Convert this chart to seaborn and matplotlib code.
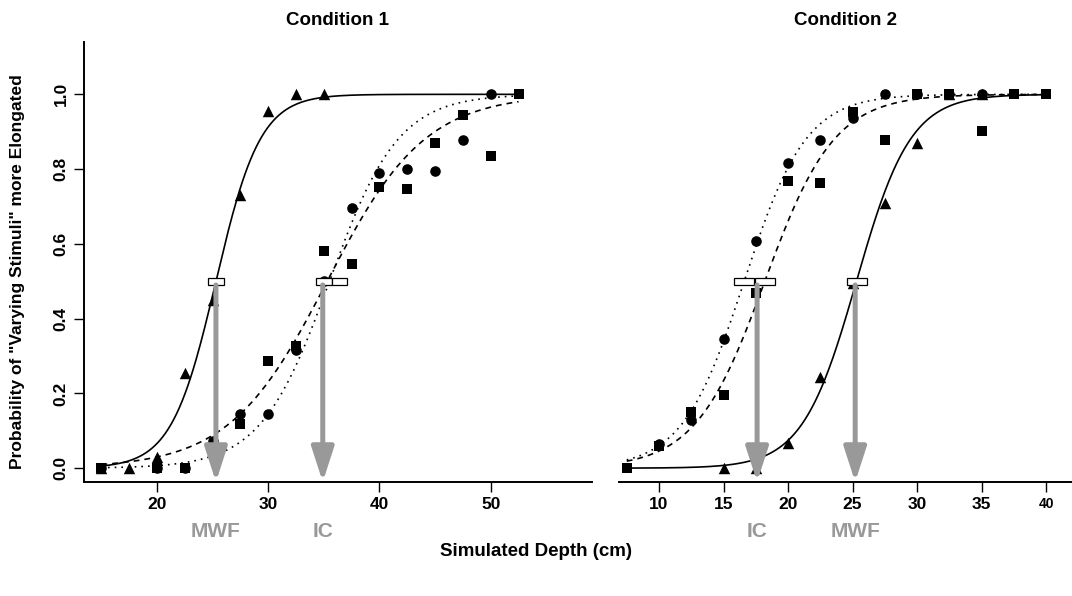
import numpy as np
import pandas as pd
import matplotlib
matplotlib.use("Agg")
import matplotlib.pyplot as plt
import seaborn as sns
from matplotlib.patches import Rectangle

# ---- data ----
# Condition 1
c1_tri_x = [15, 17.5, 20, 22.5, 25, 27.5, 30, 32.5, 35]
c1_tri_y = [0.0, 0.0, 0.03, 0.255, 0.45, 0.73, 0.955, 1.0, 1.0]
c1_circ_x = [15, 20, 22.5, 25, 27.5, 30, 32.5, 35, 37.5, 40, 42.5, 45, 47.5, 50]
c1_circ_y = [0.0, 0.0, 0.0, 0.072, 0.145, 0.145, 0.316, 0.5, 0.697, 0.79, 0.80, 0.795, 0.877, 1.0]
c1_sq_x = [15, 20, 22.5, 27.5, 30, 32.5, 35, 37.5, 40, 42.5, 45, 47.5, 50, 52.5]
c1_sq_y = [0.0, 0.0, 0.0, 0.118, 0.287, 0.327, 0.58, 0.547, 0.753, 0.748, 0.871, 0.944, 0.836, 1.0]

# Condition 2
c2_tri_x = [15, 17.5, 20, 22.5, 25, 27.5, 30, 32.5, 35]
c2_tri_y = [0.0, 0.0, 0.067, 0.244, 0.496, 0.708, 0.869, 1.0, 1.0]
c2_circ_x = [10, 12.5, 15, 17.5, 20, 22.5, 25, 27.5, 30, 32.5, 35]
c2_circ_y = [0.065, 0.128, 0.346, 0.609, 0.815, 0.877, 0.936, 1.0, 1.0, 1.0, 1.0]
c2_sq_x = [7.5, 10, 12.5, 15, 17.5, 20, 22.5, 25, 27.5, 30, 32.5, 35, 37.5, 40]
c2_sq_y = [0.0, 0.059, 0.15, 0.196, 0.469, 0.769, 0.764, 0.954, 0.879, 1.0, 1.0, 0.903, 1.0, 1.0]

# fitted logistic curves: (midpoint, spread) for triangle / circle / square series
c1_fit_mu = [25.3, 35.5, 35.3]
c1_fit_s = [2.0, 3.1, 4.4]
c2_fit_mu = [25.3, 16.6, 18.2]
c2_fit_s = [2.1, 2.4, 2.7]
c1_fit_range = (15, 52.5)
c2_fit_range = (7.5, 40)

# threshold boxes at p = 0.5 and the arrows below them
c1_box_x = [25.3, 35.0, 36.4]
c2_box_x = [16.6, 18.2, 25.35]
c1_arrow_x = [25.3, 34.9]
c1_arrow_lab = ["MWF", "IC"]
c2_arrow_x = [17.6, 25.2]
c2_arrow_lab = ["IC", "MWF"]

c1_xticks = [20, 30, 40, 50]
c2_xticks = [10, 15, 20, 25, 30, 35, 40]
yticks = [0.0, 0.2, 0.4, 0.6, 0.8, 1.0]

sns.set_style("ticks")
plt.rcParams["font.family"] = ["Liberation Sans", "DejaVu Sans"]
plt.rcParams["font.weight"] = "bold"
for k in ["text.color", "axes.labelcolor", "xtick.color", "ytick.color", "axes.edgecolor"]:
    plt.rcParams[k] = "black"

fig = plt.figure(figsize=(10.72, 5.96), dpi=100)
ax1 = fig.add_axes([84 / 1072, 1 - 482 / 596, (592 - 84) / 1072, 440 / 596])
ax2 = fig.add_axes([619 / 1072, 1 - 482 / 596, (1072 - 619) / 1072, 440 / 596])

grey = "#999999"
styles = ["-", (0, (1, 3)), (0, (3.5, 3))]
markers = ["^", "o", "s"]
sizes = [68, 58, 48]


def logistic(x, mu, s):
    return 1 / (1 + np.exp(-(x - mu) / s))


def panel(ax, xs, ys, mus, ss, rng, box_x, box_w, arr_x, arr_lab):
    xx = np.linspace(rng[0], rng[1], 300)
    for mu, s, ls in zip(mus, ss, styles):
        sns.lineplot(x=xx, y=logistic(xx, mu, s), ax=ax, color="black",
                     linewidth=1.2, linestyle=ls, zorder=2)
    for x, y, m, sz in zip(xs, ys, markers, sizes):
        df = pd.DataFrame({"depth": x, "p": y})
        sns.scatterplot(data=df, x="depth", y="p", ax=ax, marker=m, color="black",
                        s=sz, linewidth=0, zorder=3, legend=False)
    for bx in box_x:
        ax.add_patch(Rectangle((bx - box_w / 2, 0.49), box_w, 0.02, facecolor="white",
                               edgecolor="black", linewidth=0.9, zorder=4))
    for x, lab in zip(arr_x, arr_lab):
        ax.annotate("", xy=(x, -0.037), xytext=(x, 0.49),
                    arrowprops=dict(arrowstyle="-|>,head_length=1.05,head_width=0.34",
                                    color=grey, lw=3.6, shrinkA=0, shrinkB=0,
                                    mutation_scale=20),
                    zorder=5, annotation_clip=False)
        ax.text(x, -0.17, lab, color=grey, fontsize=15, fontweight="bold",
                ha="center", va="center", clip_on=False)
    ax.set_ylim(-0.037, 1.14)
    ax.set_xlabel("")
    ax.set_ylabel("")
    ax.tick_params(axis="both", length=7, width=1, labelsize=12.5, pad=4)
    for sp in ["top", "right"]:
        ax.spines[sp].set_visible(False)
    for sp in ax.spines.values():
        sp.set_linewidth(1.4)


panel(ax1, [c1_tri_x, c1_circ_x, c1_sq_x], [c1_tri_y, c1_circ_y, c1_sq_y],
      c1_fit_mu, c1_fit_s, c1_fit_range, c1_box_x, 1.4, c1_arrow_x, c1_arrow_lab)
panel(ax2, [c2_tri_x, c2_circ_x, c2_sq_x], [c2_tri_y, c2_circ_y, c2_sq_y],
      c2_fit_mu, c2_fit_s, c2_fit_range, c2_box_x, 1.55, c2_arrow_x, c2_arrow_lab)

ax1.set_xlim(13.44, 59.1)
ax1.set_xticks(c1_xticks)
ax1.set_yticks(yticks)
ax1.set_yticklabels([f"{v:.1f}" for v in yticks], rotation=90, va="center")

ax2.set_xlim(6.9, 42.0)
ax2.set_xticks(c2_xticks)
ax2.set_yticks([])
ax2.spines["left"].set_visible(False)
for lab in ax2.get_xticklabels():
    if lab.get_text() == "40":
        lab.set_fontsize(10)

ax1.set_title("Condition 1", fontsize=13.5, fontweight="bold", pad=12)
ax2.set_title("Condition 2", fontsize=13.5, fontweight="bold", pad=12)
fig.text(0.5, 1 - 551 / 596, "Simulated Depth (cm)", ha="center", va="center",
         fontsize=13.5, fontweight="bold")
fig.text(18 / 1072, 1 - 272 / 596, 'Probability of "Varying Stimuli" more Elongated',
         rotation=90, ha="center", va="center", fontsize=12.5, fontweight="bold")

fig.savefig("out.png", dpi=100)
